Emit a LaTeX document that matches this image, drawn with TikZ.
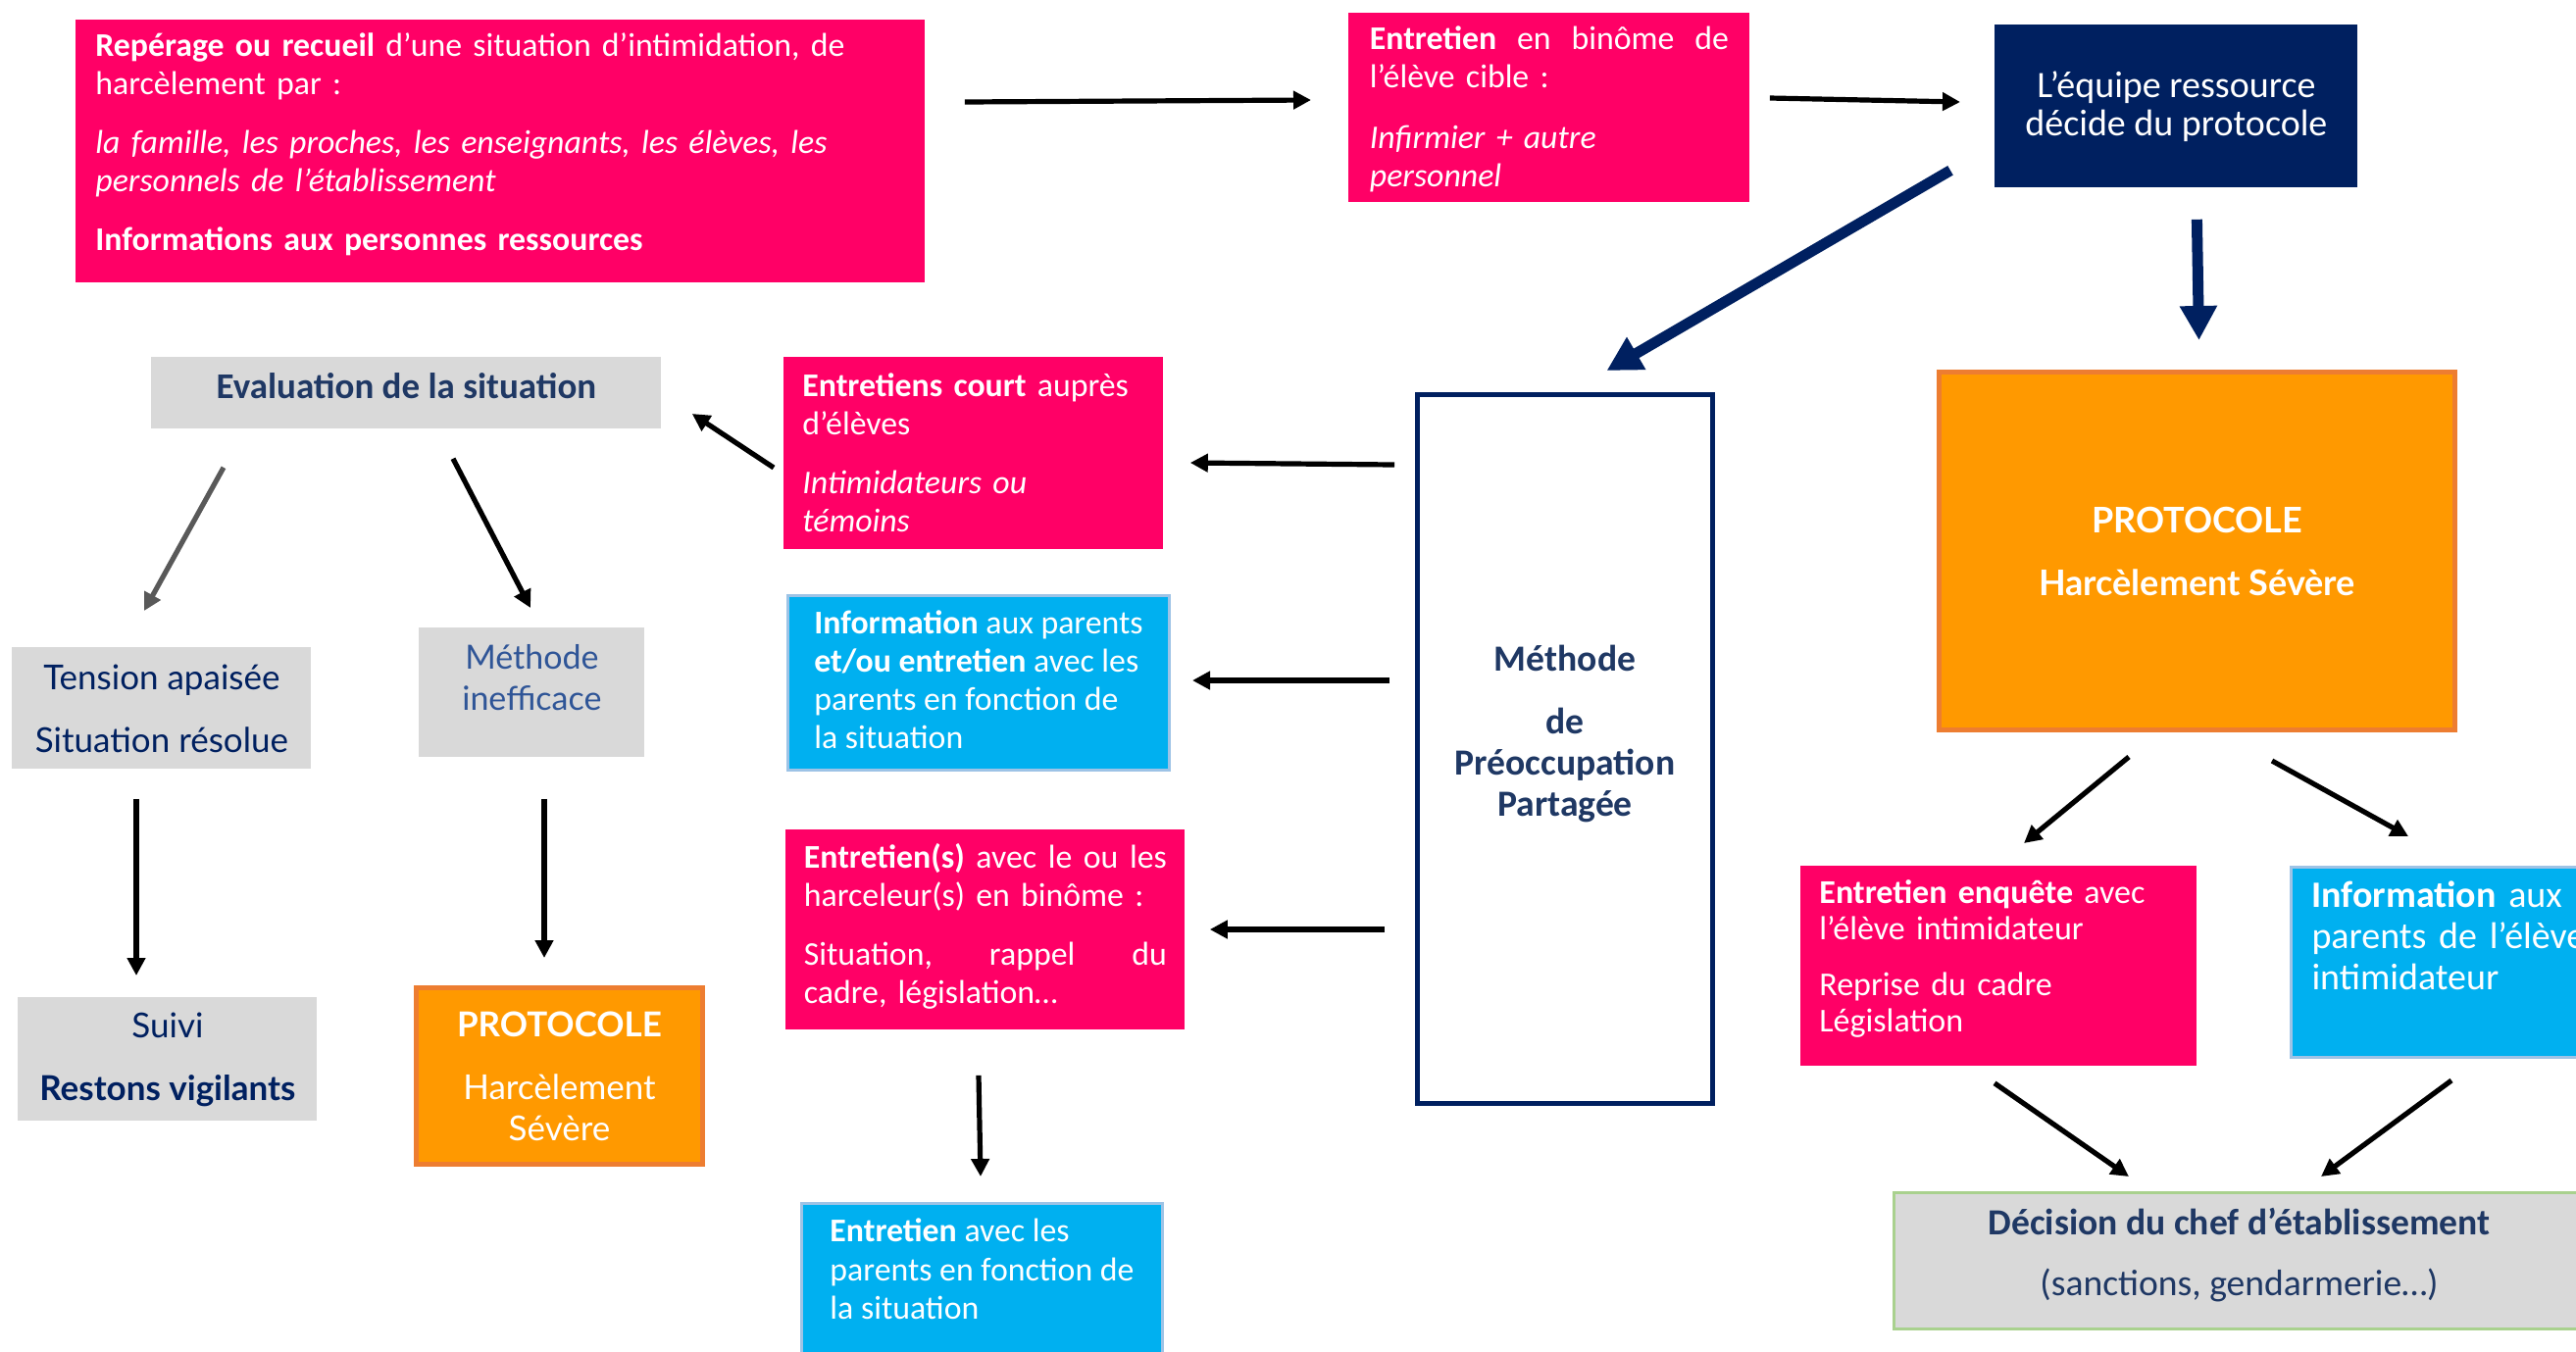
\documentclass[tikz,border=0pt]{standalone}
\usepackage{fontspec}
\setmainfont{Carlito}
\newfontfamily\mar{Lato}
\usetikzlibrary{arrows.meta,calc}
\definecolor{pinkc}{HTML}{FF0066}
\definecolor{bluec}{HTML}{00B0F0}
\definecolor{bluebrd}{HTML}{9DC3E6}
\definecolor{navyc}{HTML}{002060}
\definecolor{navytxt}{HTML}{1F3864}
\definecolor{steeltxt}{HTML}{2F5597}
\definecolor{grayf}{HTML}{D9D9D9}
\definecolor{orangef}{HTML}{FF9900}
\definecolor{orangeb}{HTML}{ED7D31}
\definecolor{greenb}{HTML}{A9D18E}
\definecolor{grayarr}{HTML}{595959}
\tikzset{
  bx/.style={rectangle, inner sep=0pt, anchor=north west},
  pinkbox/.style={bx, fill=pinkc, text=white, align=left, font=\fontsize{16.9}{19.7}\selectfont},
  bluebox/.style={bx, fill=bluec, draw=bluebrd, line width=1.5pt, text=white, align=left, font=\fontsize{16.9}{19.5}\selectfont},
  graybox/.style={bx, fill=grayf, text=navytxt, align=center},
  orangebox/.style={bx, fill=orangef, draw=orangeb, line width=2.5pt, text=white, align=center},
  arr/.style={draw=black, line width=2.6pt, -{Triangle[length=9pt,width=9pt]}},
  garr/.style={arr, draw=grayarr},
  navyarr/.style={draw=navyc, line width=5.5pt, -{Triangle[length=17.5pt,width=18pt]}},
}
\begin{document}
\begin{tikzpicture}[x=0.5pt, y=-0.5pt]
\useasboundingbox (0,0) rectangle (2627,1378);

% top row
\node[pinkbox, minimum width=433pt, minimum height=134pt, text width=413pt,
  text height=18.5pt, text depth=115.5pt] (rep) at (77,20)
  {\textbf{Repérage ou recueil} d’une situation d’intimidation, de\\
   harcèlement par :\\[10pt]
   \textit{la famille, les proches, les enseignants, les élèves, les}\\
   \textit{personnels de l’établissement}\\[10pt]
   \textbf{Informations aux personnes ressources}};
\node[pinkbox, minimum width=204.5pt, minimum height=96.5pt, text width=183pt,
  text height=18.5pt, text depth=78pt] (ent) at (1375,13)
  {\textbf{Entretien}\hfill en\hfill binôme\hfill de\\
   l’élève cible :\\[11pt]
   \textit{Infirmier + autre}\\
   \textit{personnel}};
\node[bx, fill=navyc, text=white, align=center, minimum width=185pt, minimum height=83pt,
  font=\fontsize{19}{19.5}\selectfont] (navy) at (2034,25)
  {L’équipe ressource\\décide du protocole};

% right column
\node[orangebox, minimum width=263pt, minimum height=182.5pt,
  font=\mar\bfseries\fontsize{18}{21}\selectfont] (prot) at (1975,377)
  {PROTOCOLE\\[11pt]Harcèlement Sévère};
\node[pinkbox, minimum width=202pt, minimum height=102pt, text width=183pt,
  font=\fontsize{17}{18.5}\selectfont, text height=19pt, text depth=83pt] (enq) at (1836,883)
  {\textbf{Entretien enquête} avec\\
   l’élève intimidateur\\[10pt]
   Reprise du cadre\\
   Législation};
\node[bluebox, minimum width=170pt, minimum height=97pt, text width=149pt,
  font=\fontsize{19}{21}\selectfont, text height=20.5pt, text depth=76.5pt] (infoR) at (2335,883)
  {\textbf{Information} aux\\
   parents de l’élève\\
   intimidateur};
\node[bx, fill=grayf, draw=greenb, line width=1.5pt, text=navytxt, align=center,
  minimum width=352pt, minimum height=69.5pt, font=\fontsize{18.8}{21}\selectfont,
  text depth=9.5pt] (dec) at (1930,1215)
  {\textbf{Décision du chef d’établissement}\\[10pt](sanctions, gendarmerie…)};

% middle
\node[bx, draw=navyc, line width=2.5pt, fill=white, text=navytxt, align=center,
  minimum width=150.5pt, minimum height=361.5pt,
  font=\bfseries\fontsize{18.8}{21}\selectfont, text depth=19pt] (meth) at (1443,400)
  {Méthode\\[11pt]de\\Préoccupation\\Partagée};
\node[pinkbox, minimum width=193.5pt, minimum height=98pt, text width=174.5pt,
  text height=20pt, text depth=78pt] (court) at (799,364)
  {\textbf{Entretiens court} auprès\\
   d’élèves\\[10pt]
   \textit{Intimidateurs ou}\\
   \textit{témoins}};
\node[bluebox, minimum width=194.5pt, minimum height=89pt,
  text height=78pt, text depth=11pt] (info1) at (802,606)
  {\textbf{Information} aux parents\\
   \textbf{et/ou entretien} avec les\\
   parents en fonction de\\
   la situation};
\node[pinkbox, minimum width=203.5pt, minimum height=102pt, text width=185pt,
  text height=19.5pt, text depth=82.5pt] (harc) at (801,846)
  {\textbf{Entretien(s)}\hfill avec\hfill le\hfill ou\hfill les\\
   harceleur(s) en binôme :\\[10pt]
   Situation,\hfill rappel\hfill du\\
   cadre, législation…};
\node[bluebox, minimum width=184pt, minimum height=90pt,
  font=\fontsize{16.9}{19.7}\selectfont, text height=59pt, text depth=31pt] (info2) at (816,1226)
  {\textbf{Entretien} avec les\\
   parents en fonction de\\
   la situation};

% left
\node[graybox, minimum width=260pt, minimum height=36.5pt,
  font=\bfseries\fontsize{18.5}{21}\selectfont, text depth=7pt] (eval) at (154,364)
  {Evaluation de la situation};
\node[graybox, minimum width=152.5pt, minimum height=62pt, text=navyc,
  font=\mar\fontsize{17.5}{21}\selectfont] (tension) at (12,660)
  {Tension apaisée\\[11pt]Situation résolue};
\node[graybox, minimum width=115pt, minimum height=66pt, text=steeltxt,
  font=\mar\fontsize{17}{21}\selectfont, text depth=15pt] (ineff) at (427,640)
  {Méthode\\inefficace};
\node[graybox, minimum width=152.5pt, minimum height=63pt, text=navyc,
  font=\mar\fontsize{17.5}{21}\selectfont] (suivi) at (18,1017)
  {Suivi\\[11pt]\textbf{Restons vigilants}};
\node[orangebox, minimum width=146pt, minimum height=90pt,
  font=\mar\fontsize{17.5}{21}\selectfont] (protoS) at (422,1005)
  {\textbf{PROTOCOLE}\\[11pt]Harcèlement\\Sévère};

% connectors
\draw[arr] ($(rep.north east)+(40,84)$) -- ($(ent.north west)+(-38,89)$);
\draw[arr] ($(ent.north east)+(20,87)$) -- ($(navy.north west)+(-35,79)$);
\draw[navyarr] ($(navy.south)+(21,32)$) -- ($(prot.north)+(2,-30)$);
\draw[navyarr] ($(navy.south west)+(-45,-18)$) -- ($(meth.north)+(42.5,-22)$);
\draw[arr] ($(meth.north west)+(-21,74)$) -- ($(court.north east)+(27,108)$);
\draw[arr] ($(meth.north west)+(-26,294)$) -- ($(info1.north east)+(22,88)$);
\draw[arr] ($(meth.north west)+(-31,548)$) -- ($(harc.north east)+(25,102)$);
\draw[arr] ($(court.north west)+(-10,113)$) -- ($(eval.north east)+(31,58)$);
\draw[garr] ($(eval.south west)+(74,39)$) -- ($(tension.north west)+(135,-37)$);
\draw[arr] ($(eval.south west)+(308,30)$) -- ($(ineff.north west)+(114,-20)$);
\draw[arr] ($(tension.south west)+(127,30)$) -- ($(suivi.north west)+(121,-22)$);
\draw[arr] ($(ineff.south west)+(128,42)$) -- ($(protoS.north west)+(133,-28)$);
\draw[arr] ($(harc.south west)+(197,46)$) -- ($(info2.north west)+(184,-26)$);
\draw[arr] ($(prot.south west)+(196,25)$) -- ($(enq.north west)+(228,-23)$);
\draw[arr] ($(prot.south west)+(342,29)$) -- ($(infoR.north west)+(121,-30)$);
\draw[arr] ($(enq.south west)+(198,17)$) -- ($(dec.north west)+(241,-15)$);
\draw[arr] ($(infoR.south west)+(165,22)$) -- ($(dec.north west)+(437,-15)$);
\end{tikzpicture}
\end{document}
